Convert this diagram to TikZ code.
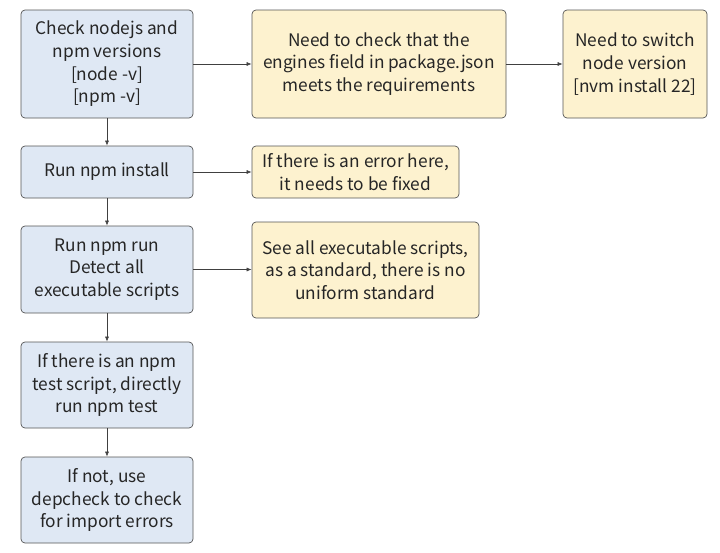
\documentclass[tikz,border=0pt]{standalone}
\usepackage{fontspec}
\setmainfont{Noto Sans CJK SC}
\usetikzlibrary{arrows.meta}
\definecolor{bluefill}{HTML}{DFE8F4}
\definecolor{yellowfill}{HTML}{FDF2CF}
\definecolor{edge}{HTML}{555555}
\begin{document}
\begin{tikzpicture}[x=1pt,y=-1pt,
  box/.style={draw=edge, line width=0.7pt, rounded corners=4pt, align=center,
    inner sep=2pt, font=\fontsize{17.3}{22.7}\selectfont, text=black!85},
  bluebox/.style={box, fill=bluefill},
  yellowbox/.style={box, fill=yellowfill},
  conn/.style={draw=black!75, line width=0.6pt, -{Latex[length=5pt,width=4pt]}}]
\useasboundingbox (0,0) rectangle (720,552);
\node[bluebox, minimum width=172pt, minimum height=108pt] (a) at (107,64) {Check nodejs and\\npm versions\\{[}node -v{]}\\{[}npm -v{]}};
\node[yellowbox, minimum width=254pt, minimum height=108pt] (b) at (379,64) {Need to check that the\\engines field in package.json\\meets the requirements};
\node[yellowbox, minimum width=144pt, minimum height=108pt] (c) at (635,64) {Need to switch\\node version\\{[}nvm install 22{]}};
\node[bluebox, minimum width=172pt, minimum height=52pt] (d) at (107,172) {Run npm install};
\node[yellowbox, minimum width=207pt, minimum height=52pt] (e) at (355.5,172) {If there is an error here,\\it needs to be fixed};
\node[bluebox, minimum width=172pt, minimum height=87pt] (f) at (107,269.5) {Run npm run\\Detect all\\executable scripts};
\node[yellowbox, minimum width=227pt, minimum height=96pt] (g) at (365.5,270) {See all executable scripts,\\as a standard, there is no\\uniform standard};
\node[bluebox, minimum width=172pt, minimum height=86pt] (h) at (107,385) {If there is an npm\\test script, directly\\run npm test};
\node[bluebox, minimum width=172pt, minimum height=86pt] (i) at (107,500) {If not, use\\depcheck to check\\for import errors};
\draw[conn] (a) -- (b);
\draw[conn] (b) -- (c);
\draw[conn] (a) -- (d);
\draw[conn] (d) -- (e);
\draw[conn] (d) -- (f);
\draw[conn] (f.east) -- (f.east -| g.west);
\draw[conn] (f) -- (h);
\draw[conn] (h) -- (i);
\end{tikzpicture}
\end{document}
